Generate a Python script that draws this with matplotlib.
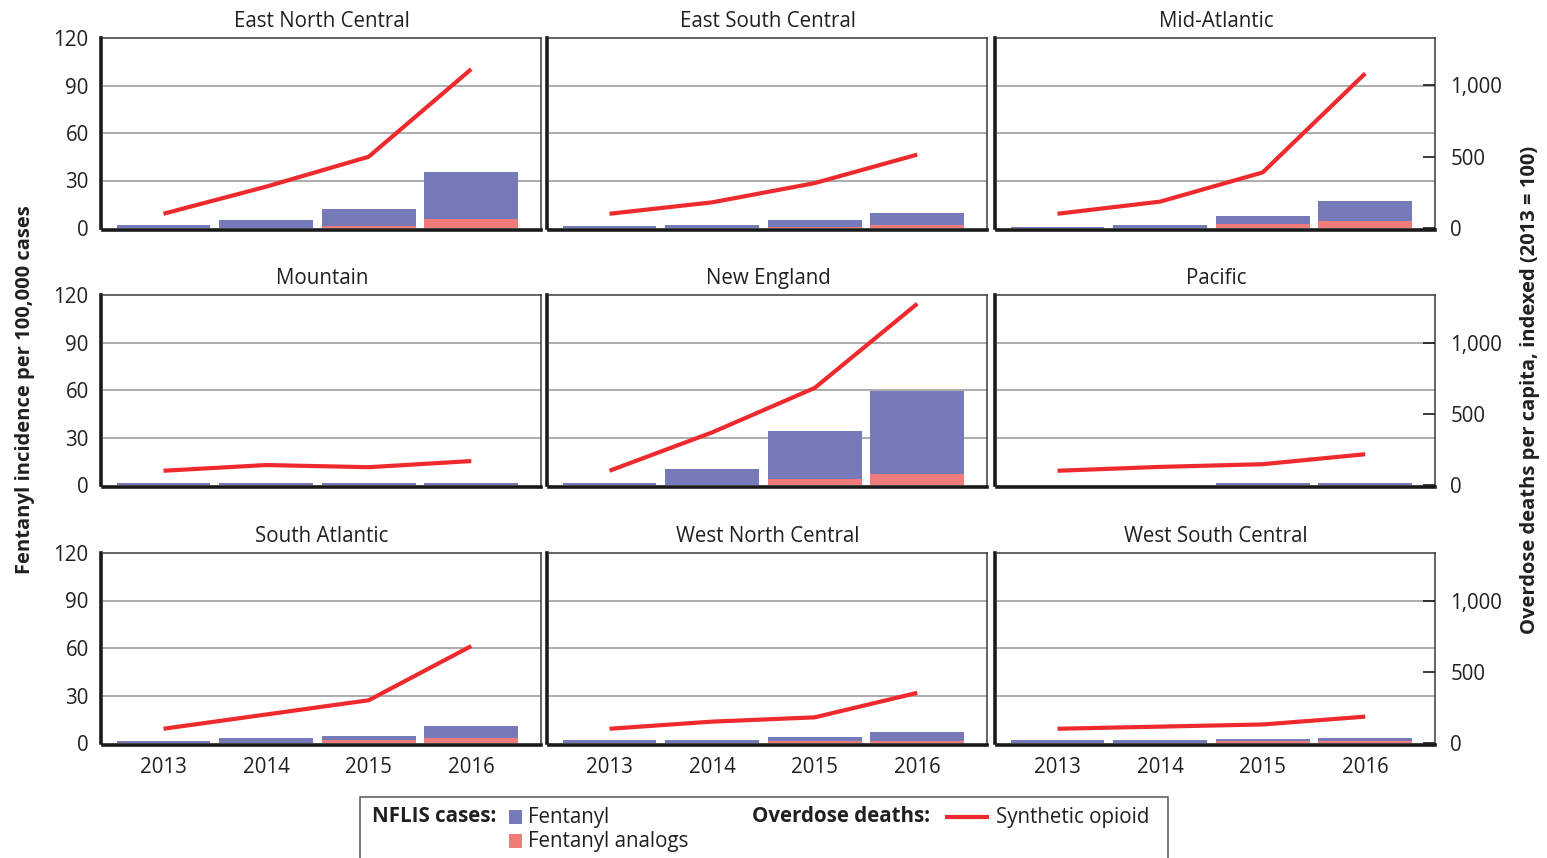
import numpy as np
import matplotlib.pyplot as plt
from matplotlib.patches import Rectangle
from matplotlib.lines import Line2D

plt.rcParams['font.family'] = ['Open Sans', 'DejaVu Sans']

TEXT_COLOR = '#231F20'
FENTANYL_COLOR = '#777AB8'
ANALOG_COLOR = '#F07B7B'
LINE_COLOR = '#EE2A2E'
GRID_COLOR = '#A8A5A5'
FS = 14.8

years = ['2013', '2014', '2015', '2016']
regions = ['East North Central', 'East South Central', 'Mid-Atlantic',
           'Mountain', 'New England', 'Pacific',
           'South Atlantic', 'West North Central', 'West South Central']

# NFLIS fentanyl cases per 100,000 (analogs stacked underneath)
fentanyl = [
    [1.7, 5.0, 10.7, 29.7],   # East North Central
    [1.3, 1.9, 4.6, 7.9],     # East South Central
    [0.6, 1.9, 5.1, 12.7],    # Mid-Atlantic
    [1.3, 1.2, 1.2, 1.3],     # Mountain
    [1.3, 10.0, 30.5, 52.1],  # New England
    [0.0, 0.0, 1.2, 1.2],     # Pacific
    [1.1, 3.2, 2.6, 7.4],     # South Atlantic
    [1.6, 2.2, 2.2, 5.3],     # West North Central
    [1.9, 1.9, 1.4, 1.9],     # West South Central
]
analogs = [
    [0.0, 0.0, 1.3, 5.7],
    [0.0, 0.0, 0.4, 1.6],
    [0.0, 0.0, 2.6, 4.5],
    [0.0, 0.0, 0.0, 0.0],
    [0.0, 0.0, 3.8, 7.0],
    [0.0, 0.0, 0.0, 0.0],
    [0.0, 0.0, 1.9, 3.4],
    [0.0, 0.0, 1.3, 1.4],
    [0.0, 0.0, 1.4, 1.5],
]
# synthetic opioid overdose deaths per capita, indexed 2013 = 100
deaths_index = [
    [100, 290, 500, 1115],
    [100, 180, 315, 515],
    [100, 185, 390, 1085],
    [100, 140, 125, 168],
    [100, 369, 681, 1272],
    [100, 127, 146, 216],
    [100, 200, 300, 680],
    [100, 150, 180, 352],
    [100, 115, 130, 185],
]

W, H = 1547, 858
fig = plt.figure(figsize=(W / 100, H / 100), dpi=100)

col_left = [103, 549, 997]
row_top = [38, 295, 553]
panel_w, panel_h = 438, 190
y_max = 120
idx_max = y_max * 100 / 9   # 1,000 on the index axis lines up with 90

x = np.arange(len(years))

for i, region in enumerate(regions):
    r, c = divmod(i, 3)
    left, top = col_left[c], row_top[r]
    ax = fig.add_axes([left / W, 1 - (top + panel_h) / H, panel_w / W, panel_h / H])

    ax.bar(x, analogs[i], width=0.915, color=ANALOG_COLOR, zorder=2)
    ax.bar(x, fentanyl[i], width=0.915, bottom=analogs[i], color=FENTANYL_COLOR, zorder=2)

    ax.set_xlim(-0.59, 3.68)
    ax.set_ylim(0, y_max)
    ax.set_yticks([0, 30, 60, 90, 120])
    for gy in [30, 60, 90]:
        ax.axhline(gy, color=GRID_COLOR, lw=1.3, zorder=1)

    # heavy axis lines sit just outside the plotting area so thin bars stay visible
    for side in ['left', 'bottom']:
        ax.spines[side].set_linewidth(2.6)
        ax.spines[side].set_color('#1A1A1A')
        ax.spines[side].set_position(('outward', 1.3))
    for side in ['top', 'right']:
        ax.spines[side].set_linewidth(1.1)
        ax.spines[side].set_color('#3A3A3A')

    ax.tick_params(axis='both', length=0, labelsize=FS, colors=TEXT_COLOR, pad=9)
    if c != 0:
        ax.set_yticklabels([])
    if r == 2:
        ax.set_xticks(x)
        ax.set_xticklabels(years)
    else:
        ax.set_xticks([])

    ax.set_title(region, fontsize=FS, color=TEXT_COLOR, pad=8)

    # deaths index on its own scale
    ax2 = ax.twinx()
    ax2.plot(x, deaths_index[i], color=LINE_COLOR, lw=3, solid_capstyle='butt', zorder=3)
    ax2.set_ylim(0, idx_max)
    ax2.set_xlim(ax.get_xlim())
    for s in ax2.spines.values():
        s.set_visible(False)
    ax2.set_yticks([0, 500, 1000])
    if c == 2:
        ax2.set_yticklabels(['0', '500', '1,000'])
        ax2.tick_params(axis='y', direction='in', length=9, width=1.2, color='#1A1A1A',
                        labelsize=FS, labelcolor=TEXT_COLOR, pad=11)
    else:
        ax2.tick_params(axis='y', length=0, labelright=False)

fig.text(25 / W, 1 - 390 / H, 'Fentanyl incidence per 100,000 cases', rotation=90,
         ha='center', va='center', fontsize=14.5, fontweight='bold', color=TEXT_COLOR)
fig.text(1530 / W, 1 - 390 / H, 'Overdose deaths per capita, indexed (2013 = 100)', rotation=90,
         ha='center', va='center', fontsize=14.5, fontweight='bold', color=TEXT_COLOR)

# legend box along the bottom edge
def fx(px):
    return px / W

def fy(py):
    return 1 - py / H

fig.patches.append(Rectangle((fx(360), fy(880)), fx(1168) - fx(360), fy(797) - fy(880),
                             transform=fig.transFigure, fill=False, edgecolor='#555555', lw=1.1))
fig.text(fx(372), fy(817), 'NFLIS cases:', fontsize=FS, fontweight='bold',
         color=TEXT_COLOR, va='center', ha='left')
fig.patches.append(Rectangle((fx(509), fy(824)), fx(522) - fx(509), fy(810) - fy(824),
                             transform=fig.transFigure, facecolor=FENTANYL_COLOR, edgecolor='none'))
fig.text(fx(528), fy(817), 'Fentanyl', fontsize=FS, color=TEXT_COLOR, va='center', ha='left')
fig.patches.append(Rectangle((fx(509), fy(848)), fx(522) - fx(509), fy(834) - fy(848),
                             transform=fig.transFigure, facecolor=ANALOG_COLOR, edgecolor='none'))
fig.text(fx(528), fy(841), 'Fentanyl analogs', fontsize=FS, color=TEXT_COLOR, va='center', ha='left')
fig.text(fx(752), fy(817), 'Overdose deaths:', fontsize=FS, fontweight='bold',
         color=TEXT_COLOR, va='center', ha='left')
fig.lines.append(Line2D([fx(947), fx(987)], [fy(817), fy(817)], transform=fig.transFigure,
                        color=LINE_COLOR, lw=3))
fig.text(fx(996), fy(817), 'Synthetic opioid', fontsize=FS, color=TEXT_COLOR, va='center', ha='left')

plt.savefig('out.png', dpi=100)
plt.close()
